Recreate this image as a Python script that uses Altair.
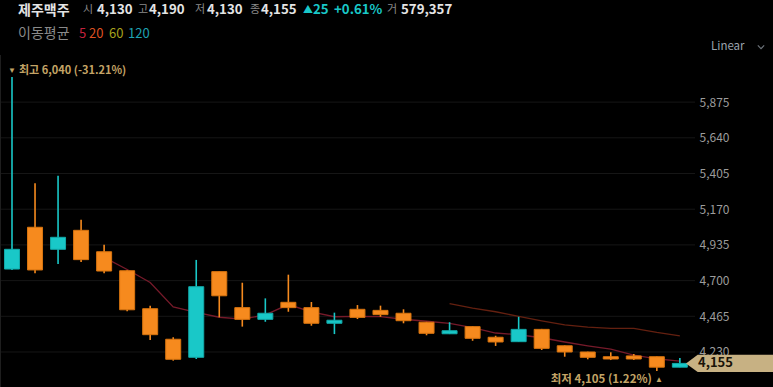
import altair as alt
import pandas as pd

# ---- data ----
opens = [4776, 5051, 4906, 5031, 4890, 4765, 4515, 4314, 4195, 4759,
         4522, 4445, 4557, 4522, 4419, 4511, 4504, 4485, 4426, 4350,
         4397, 4327, 4298, 4379, 4271, 4230, 4199, 4204, 4199, 4130]
highs = [6040, 5340, 5391, 5101, 4936, 4770, 4535, 4327, 4836, 4760,
         4686, 4583, 4739, 4559, 4489, 4539, 4535, 4511, 4428, 4426,
         4400, 4337, 4462, 4382, 4273, 4232, 4228, 4217, 4200, 4190]
lows = [4770, 4748, 4809, 4822, 4748, 4498, 4309, 4173, 4184, 4458,
        4397, 4429, 4495, 4403, 4348, 4447, 4462, 4419, 4340, 4348,
        4304, 4270, 4296, 4243, 4199, 4182, 4177, 4177, 4105, 4130]
closes = [4906, 4770, 4985, 4838, 4763, 4508, 4344, 4182, 4660, 4600,
          4445, 4485, 4522, 4419, 4439, 4458, 4476, 4436, 4353, 4370,
          4320, 4296, 4379, 4254, 4230, 4195, 4184, 4184, 4130, 4155]

y_ticks = [4230, 4465, 4700, 4935, 5170, 5405, 5640, 5875]

stock_name = "제주맥주"
header_labels = ["시", "고", "저", "종", "거"]
header_values = ["4,130", "4,190", "4,130", "4,155", "579,357"]
change_text = ["▲", "25", "+0.61%"]
ma_title = "이동평균"
ma_periods = ["5", "20", "60", "120"]
max_text = "최고 6,040 (-31.21%)"
min_text = "최저 4,105 (1.22%)"
last_price = 4155
last_price_text = "4,155"
scale_mode = "Linear"

# ---- styling ----
FONT = "Noto Sans CJK KR"
BG = "#000000"
UP = "#19c8c8"
DOWN = "#f68a1e"
UP_STROKE = "#12a9a9"
DOWN_STROKE = "#d8740f"
GOLD = "#c4a466"
GRAY = "#8a8a8a"
WHITE = "#e4e4e4"

W, H = 695, 387

df = pd.DataFrame({
    "idx": list(range(len(opens))),
    "open": opens, "high": highs, "low": lows, "close": closes,
})
df["dir"] = ["up" if c >= o else "down" for o, c in zip(opens, closes)]

xs = alt.Scale(domain=[-0.521, 29.657], nice=False, zero=False, padding=0)
ys = alt.Scale(domain=[3999.6, 6547.1], nice=False, zero=False, padding=0)
cs = alt.Scale(domain=["up", "down"], range=[UP, DOWN])
ss = alt.Scale(domain=["up", "down"], range=[UP_STROKE, DOWN_STROKE])

AX = alt.Axis(
    orient="right", values=y_ticks, labelExpr="format(datum.value, ',')",
    grid=False, domain=False, ticks=False, labelPadding=4, title=None,
    labelFont=FONT, labelFontSize=12, labelColor="#9c9c9c",
    labelBaseline="middle", labelAlign="left")

X = alt.X("idx:Q", scale=xs, axis=None)


def Y(field):
    return alt.Y(field, scale=ys, axis=AX)


base = alt.Chart(df)

grid = alt.Chart(pd.DataFrame({"v": y_ticks})).mark_rule(
    color="#161616", strokeWidth=1
).encode(y=Y("v:Q"), x=alt.value(0), x2=alt.value(W))

left_border = alt.Chart(pd.DataFrame({"a": [0]})).mark_rule(
    color="#1e1e1e", strokeWidth=1
).encode(x=alt.value(0.5), y=alt.value(55), y2=alt.value(H))

wicks = base.mark_rule(strokeWidth=1.6).encode(
    x=X, y=Y("low:Q"), y2="high:Q",
    color=alt.Color("dir:N", scale=cs, legend=None),
)

bodies = base.mark_bar(size=15, strokeWidth=1).encode(
    x=X, y=Y("open:Q"), y2="close:Q",
    color=alt.Color("dir:N", scale=cs, legend=None),
    stroke=alt.Stroke("dir:N", scale=ss, legend=None),
)

ma5 = base.transform_window(
    ma="mean(close)", n="count()", frame=[-4, 0], sort=[{"field": "idx"}]
).transform_filter("datum.n >= 5").mark_line(
    color="#761a2a", strokeWidth=1.3
).encode(x=X, y=Y("ma:Q"))

ma20 = base.transform_window(
    ma="mean(close)", n="count()", frame=[-19, 0], sort=[{"field": "idx"}]
).transform_filter("datum.n >= 20").mark_line(
    color="#642010", strokeWidth=1.3
).encode(x=X, y=Y("ma:Q"))

one = pd.DataFrame({"a": [0]})


def txt(s, x, y, color, size=12, weight="normal", align="left", font=FONT):
    return alt.Chart(one).mark_text(
        text=s, align=align, baseline="middle", font=font,
        fontSize=size, fontWeight=weight, color=color
    ).encode(x=alt.value(x), y=alt.value(y))


layers = [grid, left_border, ma20, ma5, wicks, bodies]

# header row 1
layers.append(txt(stock_name, 18, 11, WHITE, 14, "bold"))
lab_x = [83, 138, 195, 250, 387]
val_x = [97, 149, 207, 261, 401]
for s, xx in zip(header_labels, lab_x):
    layers.append(txt(s, xx, 10, GRAY, 11))
for s, xx in zip(header_values, val_x):
    layers.append(txt(s, xx, 10, WHITE, 13.25, "bold"))
layers.append(txt(change_text[0], 303, 10, UP, 10))
layers.append(txt(change_text[1], 313, 10, UP, 13.25, "bold"))
layers.append(txt(change_text[2], 334, 10, UP, 13.25, "bold"))

# header row 2
layers.append(txt(ma_title, 18, 34, GRAY, 14))
ma_colors = ["#c4223c", "#de5020", "#a6a01c", "#1ea2b2"]
ma_x = [79, 89, 109, 128]
for s, xx, c in zip(ma_periods, ma_x, ma_colors):
    layers.append(txt(s, xx, 34, c, 13))

# scale mode
layers.append(txt(scale_mode, 711, 47, "#9aa3ad", 11.5))
chev = alt.Chart(one).mark_point(
    shape="M -1 -0.5 L 0 0.5 L 1 -0.5", filled=False, stroke="#9aa3ad",
    strokeWidth=1.2, size=40
).encode(x=alt.value(761), y=alt.value(47))
layers.append(chev)

# max / min annotations
mx = pd.DataFrame({"idx": [0], "v": [max(highs)]})
layers.append(alt.Chart(mx).mark_text(
    text="▼", fontSize=8, color=GOLD, baseline="middle", align="center"
).encode(x=X, y=Y("v:Q"), yOffset=alt.value(-6)))
layers.append(alt.Chart(mx).mark_text(
    text=max_text, fontSize=11, fontWeight="bold", font=FONT, color=GOLD,
    baseline="middle", align="left", dx=7
).encode(x=X, y=Y("v:Q"), yOffset=alt.value(-6)))

mn = pd.DataFrame({"idx": [28], "v": [min(lows)]})
layers.append(alt.Chart(mn).mark_text(
    text="▲", fontSize=8, color=GOLD, baseline="middle", align="center", dx=2
).encode(x=X, y=Y("v:Q"), yOffset=alt.value(9)))
layers.append(alt.Chart(mn).mark_text(
    text=min_text, fontSize=11.5, fontWeight="bold", font=FONT, color=GOLD,
    baseline="middle", align="right", dx=-5
).encode(x=X, y=Y("v:Q"), yOffset=alt.value(9)))

# last-price tag
lp = pd.DataFrame({"v": [last_price]})
layers.append(alt.Chart(lp).mark_point(
    shape="M 0 0 L 1.3 -0.95 L 11 -0.95 L 11 0.95 L 1.3 0.95 Z",
    filled=True, fill="#c7b183", strokeWidth=0, size=324, opacity=1
).encode(x=alt.value(686), y=Y("v:Q")))
layers.append(alt.Chart(lp).mark_text(
    text=last_price_text, fontSize=13, fontWeight="bold", font=FONT,
    color="#1a1408", baseline="middle", align="left"
).encode(x=alt.value(698), y=Y("v:Q")))

chart = alt.layer(*layers).properties(
    width=W, height=H, background=BG,
    padding={"left": 0, "top": 0, "right": 773 - W, "bottom": 0},
    autosize=alt.AutoSizeParams(type="none"),
).configure_view(stroke=None)

chart.save("out.html", embed_options={"renderer": "svg", "actions": False})
